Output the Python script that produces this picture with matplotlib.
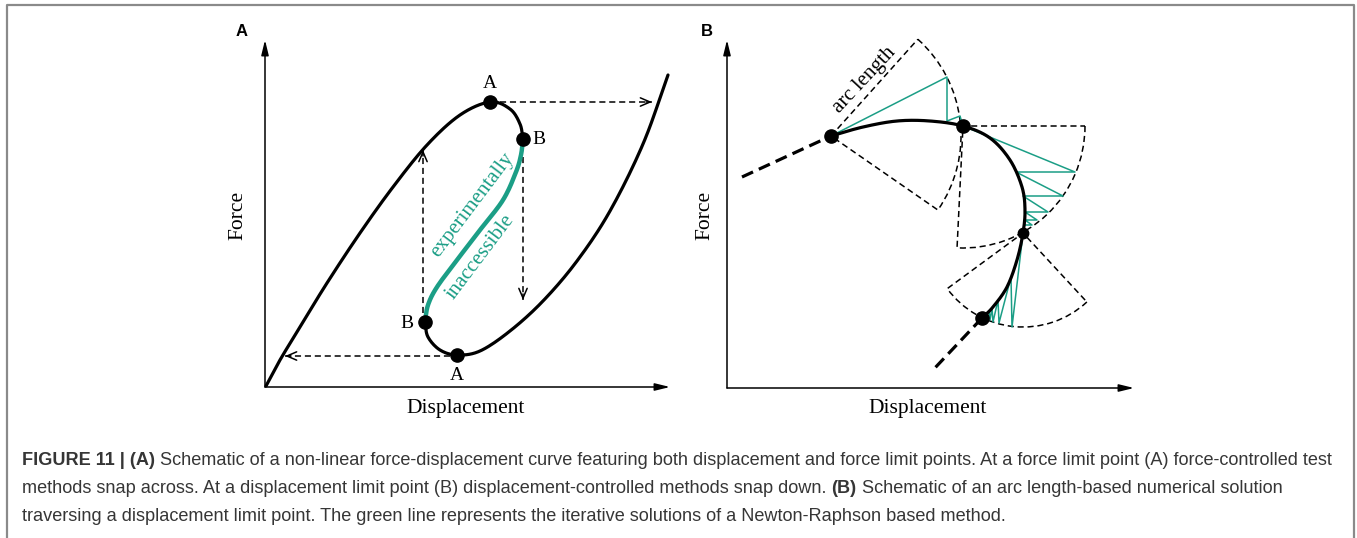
import numpy as np
import matplotlib.pyplot as plt
from matplotlib.patches import Wedge

W, H = 1357, 538
TEAL = '#1b9e86'
CAP_COLOR = '#363636'
SERIF = ['Liberation Serif', 'DejaVu Serif']
SANS = ['Liberation Sans', 'DejaVu Sans']

# ---- panel A (pixel coordinates, y grows downward)
a_origin = (265, 387)
a_x_tip = (670, 387)
a_y_tip = (265, 40)

a_upper_x = [266, 280, 300, 327, 360, 393, 427, 460, 490, 510, 520, 523]
a_upper_y = [386, 360, 327, 283, 233, 187, 145, 115, 102, 109, 124, 139]
a_green_x = [523, 521, 516, 503, 480, 457, 437, 428, 425]
a_green_y = [139, 155, 172, 200, 230, 260, 287, 305, 322]
a_lower_x = [425, 428, 440, 457, 480, 510, 543, 577, 610, 643, 668]
a_lower_y = [322, 337, 350, 355, 351, 331, 301, 261, 211, 144, 75]

a_dots_x = [490, 523, 425, 457]
a_dots_y = [102, 139, 322, 355]
a_dot_labels = ['A', 'B', 'B', 'A']
a_label_x = [490, 539, 407, 457]
a_label_y = [83, 140, 323, 375]

# dashed snap arrows: (x0, y0, x1, y1)
a_snaps = [(500, 102, 652, 102),
           (423, 313, 423, 150),
           (523, 157, 523, 300),
           (450, 356, 285, 356)]

# ---- panel B
b_origin = (727, 388)
b_x_tip = (1134, 388)
b_y_tip = (727, 40)

b_lead_x = [742, 831]
b_lead_y = [177, 136]
b_curve_x = [831, 863, 897, 930, 963, 990, 1010, 1022, 1025, 1023, 1017, 1007, 993, 982]
b_curve_y = [136, 127, 121, 121, 126, 138, 160, 187, 210, 233, 260, 287, 307, 318]
b_tail_x = [982, 933]
b_tail_y = [318, 370]

b_dots_x = [831, 963, 1023, 982]
b_dots_y = [136, 126, 233, 318]
b_dots_size = [9.5, 9.5, 7.5, 9.5]

# arc-length sectors: centre, radius, angle range (degrees, y up)
sec_cx = [831, 963, 1023]
sec_cy = [136, 126, 233]
sec_r = [130, 122, 94]
sec_a0 = [-34.7, -92.8, -143.7]
sec_a1 = [48.1, 0.0, -47.2]

# Newton-Raphson iterations
nr1_x = [831, 947, 947, 960, 963]
nr1_y = [136, 77, 121, 116, 126]
nr2_x = [963, 1075, 1016, 1063, 1023, 1048, 1025, 1037, 1025, 1032, 1024, 1023]
nr2_y = [126, 172, 172, 196, 196, 212, 212, 220, 220, 225, 225, 233]
nr3_x = [1023, 1012, 1011, 999, 998, 993, 992, 990, 989, 982]
nr3_y = [233, 327, 277, 323, 300, 322, 308, 320, 311, 318]

caption = [
    [("FIGURE 11 | (A)", True),
     (" Schematic of a non-linear force-displacement curve featuring both displacement and force limit points. "
      "At a force limit point (A) force-controlled test", False)],
    [("methods snap across. At a displacement limit point (B) displacement-controlled methods snap down. ", False),
     ("(B)", True),
     (" Schematic of an arc length-based numerical solution", False)],
    [("traversing a displacement limit point. The green line represents the iterative solutions of a "
      "Newton-Raphson based method.", False)],
]
caption_y = [465, 493, 521]


def smooth(xs, ys, n=16):
    # Catmull-Rom through the read points, only to render a smooth stroke
    p = np.column_stack([xs, ys]).astype(float)
    p = np.vstack([2 * p[0] - p[1], p, 2 * p[-1] - p[-2]])
    out = []
    t = np.linspace(0, 1, n, endpoint=False)[:, None]
    for i in range(1, len(p) - 2):
        p0, p1, p2, p3 = p[i - 1], p[i], p[i + 1], p[i + 2]
        seg = 0.5 * ((2 * p1) + (-p0 + p2) * t + (2 * p0 - 5 * p1 + 4 * p2 - p3) * t ** 2
                     + (-p0 + 3 * p1 - 3 * p2 + p3) * t ** 3)
        out.append(seg)
    out.append(p[-2][None, :])
    out = np.vstack(out)
    return out[:, 0], out[:, 1]


def axis_arrow(ax, start, tip):
    ax.annotate('', xy=tip, xytext=start,
                arrowprops=dict(arrowstyle='-|>,head_length=0.9,head_width=0.22', lw=1.1,
                                color='black', shrinkA=0, shrinkB=0, mutation_scale=10))


def dashed_arrow(ax, x0, y0, x1, y1):
    ax.plot([x0, x1], [y0, y1], color='black', lw=1.1, ls=(0, (4, 2.5)))
    d = np.hypot(x1 - x0, y1 - y0)
    ux, uy = (x1 - x0) / d, (y1 - y0) / d
    ax.annotate('', xy=(x1, y1), xytext=(x1 - 6 * ux, y1 - 6 * uy),
                arrowprops=dict(arrowstyle='->,head_length=0.7,head_width=0.3', lw=1.1,
                                color='black', shrinkA=0, shrinkB=0, mutation_scale=10))


fig = plt.figure(figsize=(W / 100, H / 100), dpi=100)
ax = fig.add_axes([0, 0, 1, 1])
ax.set_xlim(0, W)
ax.set_ylim(H, 0)
ax.set_axis_off()

# frame around figure + caption (open at the bottom)
ax.plot([7, 7, 1354, 1354], [H + 5, 5, 5, H + 5], color='#8a8a8a', lw=1.6, clip_on=False)

# ---------------- panel A
axis_arrow(ax, a_origin, a_x_tip)
axis_arrow(ax, a_origin, a_y_tip)
ax.text(242, 31, 'A', fontsize=12, fontweight='bold', family=SANS, ha='center', va='center')
ax.text(238, 215, 'Force', fontsize=15.5, family=SERIF, rotation=90, ha='center', va='center')
ax.text(466, 408, 'Displacement', fontsize=15.5, family=SERIF, ha='center', va='center')

for xs, ys, c, lw in [(a_upper_x, a_upper_y, 'black', 2.3),
                      (a_lower_x, a_lower_y, 'black', 2.3),
                      (a_green_x, a_green_y, TEAL, 3.2)]:
    sx, sy = smooth(xs, ys)
    ax.plot(sx, sy, color=c, lw=lw, solid_capstyle='round', zorder=3)

for x0, y0, x1, y1 in a_snaps:
    dashed_arrow(ax, x0, y0, x1, y1)

ax.plot(a_dots_x, a_dots_y, 'o', color='black', ms=9.5, zorder=5)
for lab, lx, ly in zip(a_dot_labels, a_label_x, a_label_y):
    ax.text(lx, ly, lab, fontsize=14, family=SERIF, ha='center', va='center')

ax.text(472, 205, 'experimentally', fontsize=15, family=SERIF, color=TEAL,
        rotation=53, rotation_mode='anchor', ha='center', va='center')
ax.text(480, 257, 'inaccessible', fontsize=15, family=SERIF, color=TEAL,
        rotation=53, rotation_mode='anchor', ha='center', va='center')

# ---------------- panel B
axis_arrow(ax, b_origin, b_x_tip)
axis_arrow(ax, b_origin, b_y_tip)
ax.text(707, 31, 'B', fontsize=12, fontweight='bold', family=SANS, ha='center', va='center')
ax.text(705, 215, 'Force', fontsize=15.5, family=SERIF, rotation=90, ha='center', va='center')
ax.text(928, 408, 'Displacement', fontsize=15.5, family=SERIF, ha='center', va='center')

for cx, cy, r, a0, a1 in zip(sec_cx, sec_cy, sec_r, sec_a0, sec_a1):
    # y axis is inverted, so angles flip sign
    ax.add_patch(Wedge((cx, cy), r, -a1, -a0, fill=False, ec='black', lw=1.1,
                       ls=(0, (4, 2.5)), zorder=2))

for xs, ys in [(nr1_x, nr1_y), (nr2_x, nr2_y), (nr3_x, nr3_y)]:
    ax.plot(xs, ys, color=TEAL, lw=1.1, zorder=3)

ax.plot(b_lead_x, b_lead_y, color='black', lw=2.3, ls=(0, (3.8, 2.0)), zorder=4)
ax.plot(b_tail_x, b_tail_y, color='black', lw=2.3, ls=(0, (3.8, 2.0)), zorder=4)
sx, sy = smooth(b_curve_x, b_curve_y)
ax.plot(sx, sy, color='black', lw=2.3, solid_capstyle='round', zorder=4)
for x, y, s in zip(b_dots_x, b_dots_y, b_dots_size):
    ax.plot(x, y, 'o', color='black', ms=s, zorder=5)

ax.text(864, 80, 'arc length', fontsize=15, family=SERIF, rotation=47,
        rotation_mode='anchor', ha='center', va='center')

# ---------------- caption
for y, pieces in zip(caption_y, caption):
    prev = None
    for txt, bold in pieces:
        kw = dict(fontsize=13.1, family=SANS, color=CAP_COLOR,
                  fontweight='bold' if bold else 'normal')
        if prev is None:
            prev = ax.text(22, y, txt, ha='left', va='baseline', **kw)
        else:
            prev = ax.annotate(txt, xy=(1, 0), xycoords=prev, ha='left', va='bottom', **kw)

fig.savefig('out.png', dpi=100)
